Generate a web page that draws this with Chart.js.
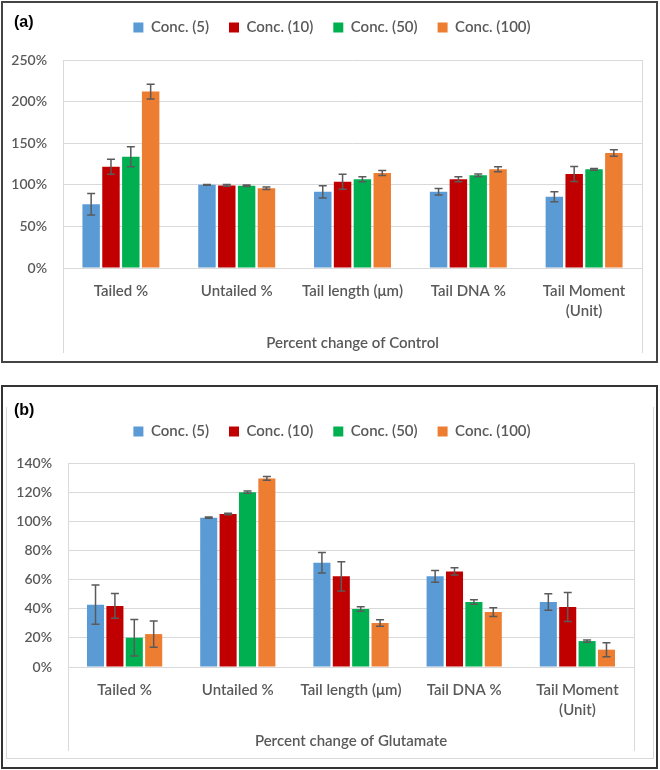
<!DOCTYPE html>
<html><head><meta charset="utf-8">
<script src="https://cdn.jsdelivr.net/npm/chart.js@4.4.1/dist/chart.umd.min.js"></script>
<style>
html,body{margin:0;padding:0;background:#fff;}
body{width:660px;height:770px;position:relative;overflow:hidden;}
canvas{position:absolute;left:0;}
.frame{position:absolute;box-sizing:border-box;pointer-events:none;}
.tag{position:absolute;font:bold 16px "Liberation Sans", Arial, sans-serif;color:#000;line-height:18px;}
</style></head><body>
<canvas id="ca" width="660" height="365" style="top:0"></canvas>
<canvas id="cb" width="660" height="385" style="top:375px"></canvas>
<div class="frame" style="left:1px;top:1px;width:657px;height:362px;border:2px solid #444"></div>
<div class="frame" style="left:6px;top:407px;width:648px;height:352px;border:1px solid #d9d9d9;border-top:none"></div>
<div class="frame" style="left:1px;top:385px;width:657px;height:384px;border:2px solid #333"></div>
<div class="tag" style="left:14px;top:13px">(a)</div>
<div class="tag" style="left:14px;top:401px">(b)</div>
<script>
// ---- data ----
const categories = ['Tailed %', 'Untailed %', 'Tail length (μm)', 'Tail DNA %', ['Tail Moment', '(Unit)']];
const seriesNames = ['Conc. (5)', 'Conc. (10)', 'Conc. (50)', 'Conc. (100)'];
const seriesColors = ['#5B9BD5', '#C00000', '#00B050', '#ED7D31'];

// Panel (a): percent change of Control
const ctrlConc5   = [76.6, 100, 91.5, 91.7, 85.7];
const ctrlConc10  = [121.8, 99.3, 103.7, 106.6, 113];
const ctrlConc50  = [133.8, 98.9, 106.6, 111.4, 118.6];
const ctrlConc100 = [212, 95.8, 114.2, 118.6, 138.2];
const ctrlErr5   = [13, 0.5, 7.5, 4, 6];
const ctrlErr10  = [9, 1, 9, 3, 9];
const ctrlErr50  = [12, 1, 3, 1.5, 1];
const ctrlErr100 = [9, 1.5, 3, 3, 4];
const ctrlTicks = [0, 50, 100, 150, 200, 250];

// Panel (b): percent change of Glutamate
const gluConc5   = [42.8, 102.5, 71.5, 62.2, 44.6];
const gluConc10  = [41.9, 105, 62.2, 65.6, 41.2];
const gluConc50  = [20.1, 120, 39.8, 44.6, 17.8];
const gluConc100 = [22.6, 129.4, 30.2, 37.7, 11.9];
const gluErr5   = [13.5, 0.5, 7, 4, 5.7];
const gluErr10  = [8.5, 0.5, 10, 2.5, 10];
const gluErr50  = [12.5, 0.7, 1.5, 1.5, 0.8];
const gluErr100 = [9, 1.3, 2.3, 3, 4.8];
const gluTicks = [0, 20, 40, 60, 80, 100, 120, 140];

// ---- plugins ----
const errorBars = {
  id: 'errorBars',
  afterDatasetsDraw(chart) {
    const ctx = chart.ctx, y = chart.scales.y;
    ctx.save();
    ctx.strokeStyle = '#5a5a5a';
    ctx.lineWidth = 1.5;
    chart.data.datasets.forEach((ds, di) => {
      const meta = chart.getDatasetMeta(di);
      meta.data.forEach((bar, i) => {
        const v = ds.data[i], e = ds.errors[i];
        const yt = y.getPixelForValue(v + e), yb = y.getPixelForValue(v - e);
        const x = bar.x, w = 4;
        ctx.beginPath();
        ctx.moveTo(x, yt); ctx.lineTo(x, yb);
        ctx.moveTo(x - w, yt); ctx.lineTo(x + w, yt);
        ctx.moveTo(x - w, yb); ctx.lineTo(x + w, yb);
        ctx.stroke();
      });
    });
    ctx.restore();
  }
};
const sideLines = {
  id: 'sideLines',
  beforeDatasetsDraw(chart, args, opts) {
    const ctx = chart.ctx, a = chart.chartArea;
    ctx.save();
    ctx.strokeStyle = '#d9d9d9';
    ctx.lineWidth = 1;
    const bottom = a.bottom + (opts.extend || 0);
    [a.left, a.right].forEach(x => {
      const px = Math.round(x) + 0.5;
      ctx.beginPath(); ctx.moveTo(px, a.top); ctx.lineTo(px, bottom); ctx.stroke();
    });
    ctx.restore();
  }
};
function patchLegend(chart, extra) {
  const lg = chart.legend;
  if (!lg || lg._gapPatched) return;
  const fit = lg.fit;
  lg.fit = function () { fit.call(this); this.height += extra; };
  lg._gapPatched = true;
}
const legendGap = {
  id: 'legendGap',
  beforeInit(chart, args, opts) { patchLegend(chart, opts.extra || 0); },
  beforeUpdate(chart, args, opts) { patchLegend(chart, opts.extra || 0); },
  afterLayout(chart, args, opts) {
    const lg = chart.legend;
    if (lg && opts.shift) { lg.left += opts.shift; lg.right += opts.shift; }
  }
};

Chart.defaults.font.family = 'Lato, "Open Sans", sans-serif';
Chart.defaults.font.weight = '600';
Chart.defaults.color = '#595959';

function makeChart(id, vals, errs, ticks, cfg) {
  const datasets = seriesNames.map((n, k) => ({
    label: n,
    data: vals[k],
    errors: errs[k],
    backgroundColor: seriesColors[k],
    borderWidth: 0,
    categoryPercentage: 0.685,
    barPercentage: 0.88
  }));
  return new Chart(document.getElementById(id), {
    type: 'bar',
    data: { labels: categories, datasets },
    plugins: [errorBars, sideLines, legendGap],
    options: {
      responsive: false,
      animation: false,
      devicePixelRatio: 1,
      layout: { padding: { left: 0, right: cfg.padRight, top: cfg.padTop, bottom: 0 } },
      plugins: {
        tooltip: { enabled: false },
        legend: {
          position: 'top',
          labels: { boxWidth: 10, boxHeight: 10, padding: 20, font: { size: 15, weight: '600' }, color: '#595959' }
        },
        legendGap: { extra: cfg.legendExtra, shift: cfg.legendShift },
        sideLines: { extend: cfg.lineExtend }
      },
      scales: {
        x: {
          grid: { display: false, drawTicks: false },
          border: { display: false },
          ticks: { padding: 13, font: { size: 15, lineHeight: 1.33, weight: '600' }, color: '#595959', maxRotation: 0, autoSkip: false },
          title: { display: true, text: cfg.title, font: { size: 15, weight: '600' }, color: '#595959', padding: { top: 0, bottom: cfg.titlePad } },
          afterFit(s) { s.height = cfg.xHeight; }
        },
        y: {
          min: ticks[0], max: ticks[ticks.length - 1],
          grid: { color: '#d9d9d9', lineWidth: 1, drawTicks: false },
          border: { display: false },
          ticks: { stepSize: ticks[1] - ticks[0], padding: 16, font: { size: 14, weight: '600' }, color: '#595959', callback: v => v + '%' },
          afterFit(s) { s.width = cfg.yWidth; }
        }
      }
    }
  });
}

makeChart('ca',
  [ctrlConc5, ctrlConc10, ctrlConc50, ctrlConc100],
  [ctrlErr5, ctrlErr10, ctrlErr50, ctrlErr100],
  ctrlTicks,
  { padRight: 18, padTop: 0, legendExtra: 15, legendShift: 11, lineExtend: 85, title: 'Percent change of Control', titlePad: 13, xHeight: 97, yWidth: 63 });

makeChart('cb',
  [gluConc5, gluConc10, gluConc50, gluConc100],
  [gluErr5, gluErr10, gluErr50, gluErr100],
  gluTicks,
  { padRight: 26, padTop: 29, legendExtra: 14, legendShift: 15, lineExtend: 84, title: 'Percent change of Glutamate', titlePad: 10, xHeight: 93, yWidth: 68 });
</script>
</body></html>
